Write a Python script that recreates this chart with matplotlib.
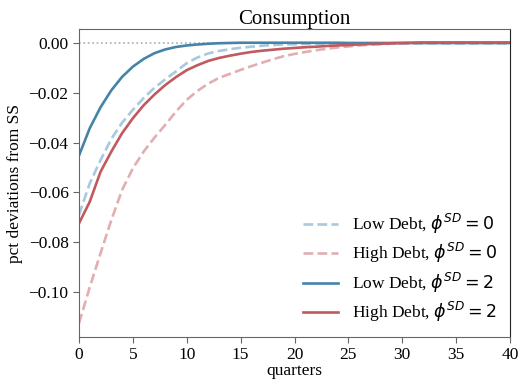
import matplotlib.pyplot as plt
import numpy as np

plt.rcParams['font.family'] = ['Liberation Serif', 'DejaVu Serif']

quarters = np.arange(41)

# low debt, phi^SD = 0
low_0 = [-0.0690, -0.0563, -0.0470, -0.0385, -0.0320, -0.0268, -0.0221, -0.0180,
         -0.0146, -0.0114, -0.0081, -0.0058, -0.0042, -0.0032, -0.0025, -0.0019,
         -0.0015, -0.0011, -0.0008, -0.0006, -0.0005, -0.0004, -0.0003, -0.0003,
         -0.0002, -0.0002, -0.0002, -0.0002, -0.0002, -0.0002, -0.0002, -0.0002,
         -0.0002, -0.0002, -0.0002, -0.0002, -0.0002, -0.0002, -0.0002, -0.0002,
         -0.0002]
# high debt, phi^SD = 0
high_0 = [-0.1125, -0.0980, -0.0844, -0.0711, -0.0590, -0.0503, -0.0436, -0.0380,
          -0.0329, -0.0275, -0.0228, -0.0192, -0.0163, -0.0140, -0.0124, -0.0108,
          -0.0093, -0.0079, -0.0065, -0.0053, -0.0044, -0.0036, -0.0029, -0.0023,
          -0.0018, -0.0014, -0.0010, -0.0007, -0.0005, -0.0003, -0.0001, 0.0000,
          0.0001, 0.0001, 0.0001, 0.0001, 0.0001, 0.0001, 0.0001, 0.0001, 0.0001]
# low debt, phi^SD = 2
low_2 = [-0.0452, -0.0342, -0.0258, -0.0190, -0.0136, -0.0095, -0.0064, -0.0041,
         -0.0026, -0.0016, -0.0010, -0.0006, -0.0003, -0.0001, 0.0000, 0.0001,
         0.0001, 0.0001, 0.0001, 0.0001, 0.0001, 0.0001, 0.0001, 0.0001, 0.0001,
         0.0000, 0.0000, 0.0000, 0.0000, 0.0000, 0.0000, 0.0000, 0.0000, 0.0000,
         0.0000, 0.0000, 0.0000, 0.0000, 0.0000, 0.0000, 0.0000]
# high debt, phi^SD = 2
high_2 = [-0.0724, -0.0637, -0.0517, -0.0436, -0.0362, -0.0302, -0.0250, -0.0207,
          -0.0169, -0.0137, -0.0109, -0.0089, -0.0072, -0.0060, -0.0051, -0.0043,
          -0.0036, -0.0031, -0.0027, -0.0023, -0.0020, -0.0017, -0.0015, -0.0012,
          -0.0010, -0.0008, -0.0006, -0.0004, -0.0003, -0.0001, 0.0000, 0.0001,
          0.0002, 0.0002, 0.0002, 0.0002, 0.0002, 0.0002, 0.0002, 0.0002, 0.0002]

fig = plt.figure(figsize=(5.21, 3.82), dpi=100)
ax = fig.add_axes([0.1516, 0.1178, 0.8274, 0.8062])

ax.axhline(0, color='#aaaaaa', ls=':', lw=1.2)
ax.plot(quarters, low_0, color='#a9c9dc', ls='--', lw=1.9, label=r'Low Debt, $\phi^{SD} = 0$')
ax.plot(quarters, high_0, color='#e2aeb0', ls='--', lw=1.9, label=r'High Debt, $\phi^{SD} = 0$')
ax.plot(quarters, low_2, color='#4584a8', lw=1.9, label=r'Low Debt, $\phi^{SD} = 2$')
ax.plot(quarters, high_2, color='#c05a5e', lw=1.9, label=r'High Debt, $\phi^{SD} = 2$')

ax.set_xlim(0, 40)
ax.set_ylim(-0.118, 0.0056)
ax.set_xticks(range(0, 41, 5))
ax.set_yticks([0.0, -0.02, -0.04, -0.06, -0.08, -0.10])
ax.set_yticklabels(['0.00', '\u22120.02', '\u22120.04', '\u22120.06', '\u22120.08', '\u22120.10'])
ax.tick_params(labelsize=12.5, color='#666666', length=4)

for s in ['left', 'bottom', 'top']:
    ax.spines[s].set_color('#666666')
ax.spines['right'].set_color('#222222')

ax.set_title('Consumption', fontsize=15, pad=3)
ax.set_xlabel('quarters', fontsize=12.5, labelpad=0)
ax.set_ylabel('pct deviations from SS', fontsize=12.5, labelpad=4)

ax.legend(loc='lower right', frameon=False, fontsize=12.5, labelspacing=0.3,
          handlelength=2.0, borderaxespad=0.35)

fig.savefig('out.png', dpi=100)
